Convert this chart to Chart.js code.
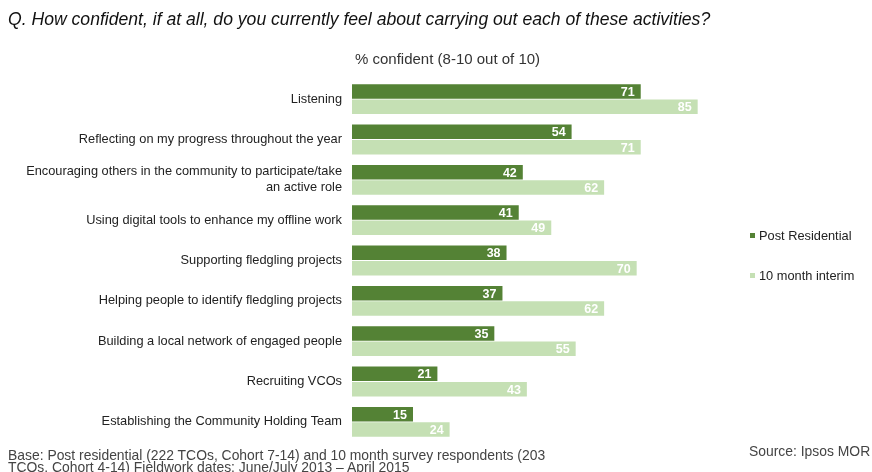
<!DOCTYPE html>
<html>
<head>
<meta charset="utf-8">
<script src="https://cdn.jsdelivr.net/npm/chart.js@4.4.1/dist/chart.umd.min.js"></script>
<style>
  body { margin: 0; background: #fff; font-family: "Liberation Sans", Arial, sans-serif; }
  #wrap { position: relative; width: 872px; height: 472px; }
  canvas { position: absolute; left: 0; top: 0; }
  .txt { position: absolute; color: #222; white-space: nowrap; }
  #title { left: 8px; top: 9px; font-size: 17.6px; font-style: italic; color: #111; }
  #sub { left: 355px; top: 50px; font-size: 15px; color: #333; }
  .leg { font-size: 12.8px; color: #222; }
  .leg i { display: inline-block; width: 5px; height: 5px; margin-right: 4px; vertical-align: middle; position: relative; top: -1px; }
  #base { left: 8px; top: 450px; font-size: 13.9px; line-height: 11.5px; color: #444; }
  #source { left: 749px; top: 443px; font-size: 13.9px; color: #444; }
</style>
</head>
<body>
<div id="wrap">
  <canvas id="chart" width="872" height="472"></canvas>
  <div class="txt" id="title">Q. How confident, if at all, do you currently feel about carrying out each of these activities?</div>
  <div class="txt" id="sub">% confident (8-10 out of 10)</div>
  <div class="txt leg" style="left:750px;top:228px"><i style="background:#548235"></i>Post Residential</div>
  <div class="txt leg" style="left:750px;top:268px"><i style="background:#c5e0b4"></i>10 month interim</div>
  <div class="txt" id="base">Base: Post residential (222 TCOs, Cohort 7-14) and 10 month survey respondents (203<br>TCOs, Cohort 4-14) Fieldwork dates: June/July 2013 – April 2015</div>
  <div class="txt" id="source">Source: Ipsos MOR</div>
</div>
<script>
const activities = [
  "Listening",
  "Reflecting on my progress throughout the year",
  ["Encouraging others in the community to participate/take", "an active role"],
  "Using digital tools to enhance my offline work",
  "Supporting fledgling projects",
  "Helping people to identify fledgling projects",
  "Building a local network of engaged people",
  "Recruiting VCOs",
  "Establishing the Community Holding Team"
];
const postResidential = [71, 54, 42, 41, 38, 37, 35, 21, 15];
const tenMonthInterim = [85, 71, 62, 49, 70, 62, 55, 43, 24];

// white value labels at the inner end of each bar
const barValues = {
  id: 'barValues',
  afterDatasetsDraw(chart) {
    const ctx = chart.ctx;
    ctx.save();
    ctx.font = 'bold 12.5px "Liberation Sans", Arial, sans-serif';
    ctx.fillStyle = '#fff';
    ctx.textAlign = 'right';
    ctx.textBaseline = 'middle';
    chart.data.datasets.forEach((ds, i) => {
      chart.getDatasetMeta(i).data.forEach((bar, j) => {
        ctx.fillText(ds.data[j], bar.x - 6, bar.y + 1);
      });
    });
    ctx.restore();
  }
};

new Chart(document.getElementById('chart'), {
  type: 'bar',
  data: {
    labels: activities,
    datasets: [
      { label: 'Post Residential', data: postResidential, backgroundColor: '#548235' },
      { label: '10 month interim', data: tenMonthInterim, backgroundColor: '#c5e0b4' }
    ]
  },
  options: {
    indexAxis: 'y',
    responsive: false,
    animation: false,
    layout: { padding: { left: 0, right: 154, top: 79, bottom: 30 } },
    datasets: { bar: { categoryPercentage: 0.76, barPercentage: 0.95 } },
    plugins: { legend: { display: false }, tooltip: { enabled: false } },
    scales: {
      x: { display: false, min: 0, max: 90 },
      y: {
        grid: { display: false },
        border: { display: false },
        ticks: {
          color: '#222',
          padding: 2,
          font: { family: '"Liberation Sans", Arial, sans-serif', size: 12.8, lineHeight: 1.25 }
        },
        afterFit(scale) { scale.width = 352; }
      }
    }
  },
  plugins: [barValues]
});
</script>
</body>
</html>
